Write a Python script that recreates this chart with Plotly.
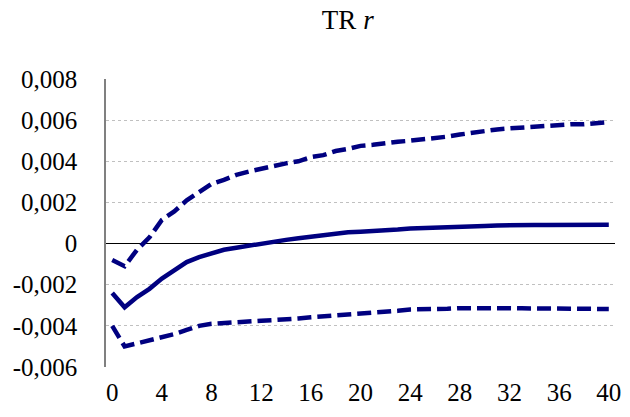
import plotly.graph_objects as go

periods = list(range(41))

upper = [-0.0008, -0.0011, -0.0003, 0.0003, 0.00115, 0.00156, 0.0021, 0.0025, 0.0029, 0.0031,
         0.00334, 0.0035, 0.00363, 0.0038, 0.0039, 0.0040, 0.0042, 0.0043, 0.0045, 0.0046,
         0.00475, 0.0048, 0.0049, 0.00495, 0.0050, 0.00505, 0.0051, 0.0052, 0.0053, 0.0054,
         0.0055, 0.00555, 0.0056, 0.00565, 0.0057, 0.00575, 0.0058, 0.0058, 0.0058, 0.00585, 0.0059]

median = [-0.0024, -0.0031, -0.0026, -0.0022, -0.0017, -0.0013, -0.0009, -0.00066, -0.00047, -0.0003,
          -0.0002, -0.0001, 0.00002, 0.0001, 0.00018, 0.00026, 0.00034, 0.00042, 0.0005, 0.00055,
          0.00058, 0.0006, 0.00062, 0.00068, 0.00073, 0.00076, 0.00078, 0.0008, 0.00083, 0.00085,
          0.00086, 0.00088, 0.0009, 0.0009, 0.0009, 0.0009, 0.0009, 0.0009, 0.0009, 0.00091, 0.00091]

lower = [-0.004, -0.005, -0.00485, -0.0047, -0.0046, -0.0044, -0.0042, -0.0040, -0.0039, -0.00385,
         -0.00382, -0.00378, -0.00375, -0.00372, -0.0037, -0.00364, -0.00358, -0.00354, -0.0035, -0.00345,
         -0.0034, -0.00337, -0.00334, -0.00327, -0.0032, -0.0032, -0.0032, -0.00317, -0.00314, -0.00313,
         -0.00313, -0.00313, -0.00314, -0.00315, -0.00316, -0.00316, -0.00316, -0.00316, -0.00316, -0.00317, -0.00318]

x_ticks = list(range(0, 41, 4))
y_ticks = [-0.006, -0.004, -0.002, 0, 0.002, 0.004, 0.006, 0.008]
y_ticktext = ["-0,006", "-0,004", "-0,002", "0", "0,002", "0,004", "0,006", "0,008"]

navy = "#000080"
font_family = "Liberation Serif"

fig = go.Figure()
fig.add_trace(go.Scatter(x=periods, y=upper, mode="lines",
                         line=dict(color=navy, width=4.5, dash="14px,6px"), showlegend=False))
fig.add_trace(go.Scatter(x=periods, y=median, mode="lines",
                         line=dict(color=navy, width=4.5), showlegend=False))
fig.add_trace(go.Scatter(x=periods, y=lower, mode="lines",
                         line=dict(color=navy, width=4.5, dash="14px,6px"), showlegend=False))

fig.update_layout(
    width=630, height=417,
    margin=dict(l=106, r=9, t=79, b=50),
    paper_bgcolor="white", plot_bgcolor="white",
    font=dict(family=font_family, size=25, color="black"),
    title=dict(text="TR <i>r</i>", x=0.552, xanchor="center", y=0.975, yanchor="top",
               font=dict(family=font_family, size=27, color="black")),
    xaxis=dict(range=[-0.5, 40.5], tickvals=x_ticks, showgrid=False, zeroline=False,
               showline=False, ticks="", ticklabelstandoff=8, tickfont=dict(size=25)),
    yaxis=dict(range=[-0.006, 0.008], tickvals=y_ticks, ticktext=y_ticktext,
               showgrid=True, gridcolor="#c0c0c0", griddash="dot", gridwidth=1,
               zeroline=True, zerolinecolor="black", zerolinewidth=1,
               showline=True, linecolor="#808080", linewidth=1.5,
               ticks="", ticklabelstandoff=22, tickfont=dict(size=25)),
)

fig.write_html("out.html")
